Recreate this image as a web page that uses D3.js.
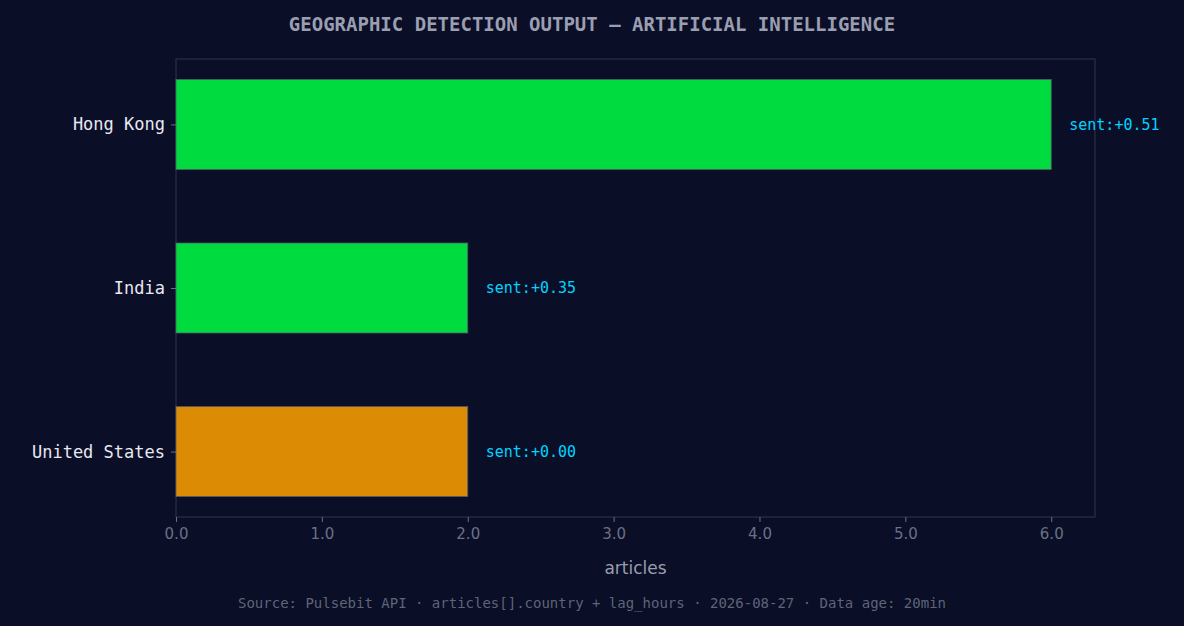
<!DOCTYPE html>
<html>
<head>
<meta charset="utf-8">
<script src="https://cdn.jsdelivr.net/npm/d3@7"></script>
<style>
  body { margin: 0; background: #0a0e27; }
  svg { display: block; }
</style>
</head>
<body>
<svg id="chart" width="1184" height="626"></svg>
<script>
// data
const countries = ["Hong Kong", "India", "United States"];
const articles = [6, 2, 2];
const sentiment = ["+0.51", "+0.35", "+0.00"];
const barColors = ["#00db3f", "#00db3f", "#db8c04"];
const xTicks = [0, 1, 2, 3, 4, 5, 6];

const plotLeft = 176, plotRight = 1095, plotTop = 59, plotBottom = 517;
const svg = d3.select("#chart");

svg.append("rect").attr("width", 1184).attr("height", 626).attr("fill", "#0a0e27");

const x = d3.scaleLinear().domain([0, 6.3]).range([plotLeft, plotRight]);
// index 0 at top, like matplotlib inverted barh
const y = d3.scaleLinear().domain([-0.4, 2.4]).range([plotTop, plotBottom]);
const barH = y(0.55) - y(0);

// frame
svg.append("rect")
    .attr("x", plotLeft).attr("y", plotTop)
    .attr("width", plotRight - plotLeft).attr("height", plotBottom - plotTop)
    .attr("fill", "none").attr("stroke", "#2a2f4a").attr("stroke-width", 1.2);

// bars
svg.selectAll(".bar")
    .data(countries)
    .enter()
    .append("rect")
    .attr("class", "bar")
    .attr("x", x(0))
    .attr("y", (d, i) => y(i) - barH / 2)
    .attr("width", (d, i) => x(articles[i]) - x(0))
    .attr("height", barH)
    .attr("fill", (d, i) => barColors[i])
    .attr("stroke", "#555a6a")
    .attr("stroke-width", 0.8);

// sentiment labels
svg.selectAll(".sent")
    .data(countries)
    .enter()
    .append("text")
    .attr("x", (d, i) => x(articles[i]) + 18)
    .attr("y", (d, i) => y(i))
    .attr("dy", "0.35em")
    .attr("fill", "#00d4ff")
    .style("font-family", "DejaVu Sans Mono, monospace")
    .style("font-size", "15px")
    .text((d, i) => "sent:" + sentiment[i]);

// x axis
const xAxis = svg.append("g")
    .attr("transform", `translate(0, ${plotBottom})`)
    .call(d3.axisBottom(x).tickValues(xTicks).tickSize(5).tickPadding(6));
xAxis.select(".domain").remove();
xAxis.selectAll("line").attr("stroke", "#6b7085");
xAxis.selectAll("text")
    .attr("fill", "#6b7085")
    .style("font-family", "DejaVu Sans, sans-serif")
    .style("font-size", "15px");

// y axis
const yAxis = svg.append("g")
    .attr("transform", `translate(${plotLeft}, 0)`)
    .call(d3.axisLeft(y).tickValues([0, 1, 2]).tickFormat(i => countries[i]).tickSize(5).tickPadding(6));
yAxis.select(".domain").remove();
yAxis.selectAll("line").attr("stroke", "#6b7085");
yAxis.selectAll("text")
    .attr("fill", "#e8e8f0")
    .style("font-family", "DejaVu Sans Mono, monospace")
    .style("font-size", "17px");

// axis label
svg.append("text")
    .attr("x", (plotLeft + plotRight) / 2).attr("y", 574)
    .attr("text-anchor", "middle")
    .attr("fill", "#9a9eb0")
    .style("font-family", "DejaVu Sans, sans-serif")
    .style("font-size", "17px")
    .text("articles");

// title
svg.append("text")
    .attr("x", 592).attr("y", 31)
    .attr("text-anchor", "middle")
    .attr("fill", "#9a9eb0")
    .style("font-family", "DejaVu Sans Mono, monospace")
    .style("font-weight", "bold")
    .style("font-size", "19px")
    .text("GEOGRAPHIC DETECTION OUTPUT — ARTIFICIAL INTELLIGENCE");

// source
svg.append("text")
    .attr("x", 592).attr("y", 608)
    .attr("text-anchor", "middle")
    .attr("fill", "#5f6478")
    .style("font-family", "DejaVu Sans Mono, monospace")
    .style("font-size", "14px")
    .text("Source: Pulsebit API · articles[].country + lag_hours · 2026-08-27 · Data age: 20min");
</script>
</body>
</html>
